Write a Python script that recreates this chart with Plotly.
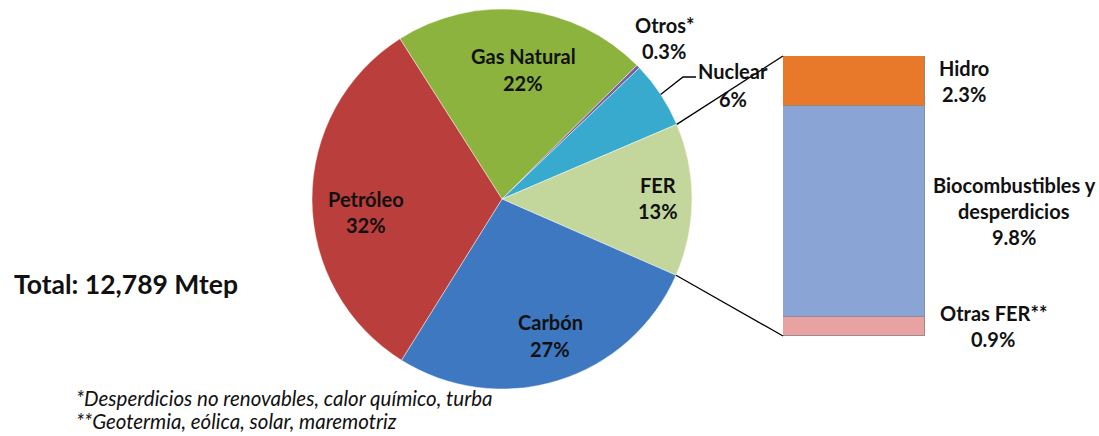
import math
import plotly.graph_objects as go

# ---------------- data ----------------
categories = ["Gas Natural", "Otros*", "Nuclear", "FER", "Carbón", "Petróleo"]
shares = [21.6, 0.3, 5.7, 13.0, 27.3, 32.1]

fer_parts = ["Otras FER**", "Biocombustibles y<br>desperdicios", "Hidro"]
fer_values = [0.9, 9.8, 2.3]

total_text = "Total: 12,789 Mtep"
footnotes = ["*Desperdicios no renovables, calor químico, turba",
             "**Geotermia, eólica, solar, maremotriz"]

# ---------------- style / layout ----------------
W, H = 1099, 436
CX, CY, R = 502, 199, 190
ROT = -32.5
FONT = "Lato"
LBL_SIZE = 20
pie_colors = ["#8CB33E", "#7B5E9E", "#38AACD", "#C3D69B", "#3E78C0", "#B93E3C"]
fer_colors = ["#E8A2A2", "#8AA5D5", "#E8792B"]

BAR_X0, BAR_X1 = 783, 925
BAR_Y0, BAR_Y1 = 56, 336  # top, bottom (px)

# label line centers (px): (x, y_first_line, line_gap)
pie_label_pos = {
    "Gas Natural": (523, 56.5, 26.5),
    "Otros*": (664, 25, 26),
    "Nuclear": (733, 71.5, 27),
    "FER": (658, 185, 26),
    "Carbón": (550, 322, 26.5),
    "Petróleo": (366, 199, 26),
}
fer_label_x = {"Otras FER**": 993, "Biocombustibles y<br>desperdicios": 1014, "Hidro": 964}
LINE_GAP = 26


def px(x, y):
    return x / W, 1 - y / H


def fmt(v):
    return f"{v:.0f}%" if v >= 1 else f"{v:.1f}%"


fig = go.Figure()

fig.add_trace(go.Pie(
    labels=categories, values=shares, sort=False, direction="clockwise",
    rotation=ROT, textinfo="none", hoverinfo="label+percent",
    marker=dict(colors=pie_colors, line=dict(color="rgba(255,255,255,0.45)", width=1)),
    domain=dict(x=[(CX - R) / W, (CX + R) / W], y=[1 - (CY + R) / H, 1 - (CY - R) / H]),
    showlegend=False,
))

# stacked bar for FER breakdown
for name, v, c in zip(fer_parts, fer_values, fer_colors):
    fig.add_trace(go.Bar(
        x=[0], y=[v], width=[1], name=name.replace("<br>", " "),
        marker=dict(color=c, line=dict(color="#8A8A8A", width=0.8)),
        xaxis="x", yaxis="y", showlegend=False, hoverinfo="name+y",
    ))

ann = []
# pie labels
for name, v in zip(categories, shares):
    x, y0, gap = pie_label_pos[name]
    for k, line in enumerate([name, fmt(v)]):
        xp, yp = px(x, y0 + k * gap)
        ann.append(dict(x=xp, y=yp, xref="paper", yref="paper", text=f"<b>{line}</b>",
                        showarrow=False, xanchor="center", yanchor="middle",
                        font=dict(family=FONT, size=LBL_SIZE, color="#111")))

# bar labels at segment mid heights
fer_total = sum(fer_values)
cum = 0
for name, v in zip(fer_parts, fer_values):
    mid = cum + v / 2
    cum += v
    lines = name.split("<br>") + [f"{v:.1f}%"]
    mid_px = BAR_Y1 - (BAR_Y1 - BAR_Y0) * mid / fer_total
    n = len(lines)
    for k, line in enumerate(lines):
        yy = mid_px + (k - (n - 1) / 2) * LINE_GAP
        xp, yp = px(fer_label_x[name], yy)
        ann.append(dict(x=xp, y=yp, xref="paper", yref="paper", text=f"<b>{line}</b>",
                        showarrow=False, xanchor="center", yanchor="middle",
                        font=dict(family=FONT, size=LBL_SIZE, color="#111")))

# total
xp, yp = px(12, 284)
ann.append(dict(x=xp, y=yp, xref="paper", yref="paper", text=f"<b>{total_text}</b>",
                showarrow=False, xanchor="left", yanchor="middle",
                font=dict(family=FONT, size=26.5, color="#111")))
# footnotes
for k, t in enumerate(footnotes):
    xp, yp = px(74, 398 + k * 23)
    ann.append(dict(x=xp, y=yp, xref="paper", yref="paper", text=f"<i>{t}</i>",
                    showarrow=False, xanchor="left", yanchor="middle",
                    font=dict(family=FONT, size=20.5, color="#111")))

# connector lines: FER slice boundaries -> bar corners
total = sum(shares)
idx = categories.index("FER")
a_start = math.radians(ROT + 360 * sum(shares[:idx]) / total)
a_end = math.radians(ROT + 360 * sum(shares[:idx + 1]) / total)


def on_circle(a, r=R):
    return CX + r * math.sin(a), CY - r * math.cos(a)


shapes = []
for a, (bx, by) in [(a_start, (BAR_X0, BAR_Y0)), (a_end, (BAR_X0, BAR_Y1))]:
    sx, sy = on_circle(a)
    x0, y0 = px(sx, sy)
    x1, y1 = px(bx, by)
    shapes.append(dict(type="line", xref="paper", yref="paper", x0=x0, y0=y0, x1=x1, y1=y1,
                       line=dict(color="#000", width=1.3)))

# nuclear leader line
ni = categories.index("Nuclear")
a_mid = math.radians(ROT + 360 * (sum(shares[:ni]) + shares[ni] / 2) / total)
sx, sy = on_circle(a_mid)
kx, ky = 683, 77
ex = 696
p0 = px(sx, sy); p1 = px(kx, ky); p2 = px(ex, ky)
shapes.append(dict(type="path", xref="paper", yref="paper",
                   path=f"M {p0[0]},{p0[1]} L {p1[0]},{p1[1]} L {p2[0]},{p2[1]}",
                   line=dict(color="#000", width=1.3)))

fig.update_layout(
    width=W, height=H, margin=dict(l=0, r=0, t=0, b=0),
    paper_bgcolor="white", plot_bgcolor="rgba(0,0,0,0)",
    barmode="stack", bargap=0,
    xaxis=dict(domain=[BAR_X0 / W, BAR_X1 / W], range=[-0.5, 0.5], visible=False, fixedrange=True),
    yaxis=dict(domain=[1 - BAR_Y1 / H, 1 - BAR_Y0 / H], range=[0, fer_total], visible=False, fixedrange=True),
    annotations=ann, shapes=shapes,
)

fig.write_html("out.html", config={"displayModeBar": False},
               post_script="document.body.style.margin='0';document.body.style.overflow='hidden';")
